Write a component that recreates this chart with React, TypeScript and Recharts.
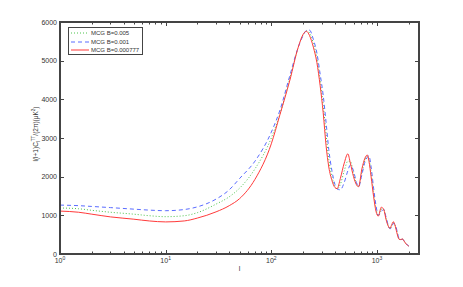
import React from 'react';
import { LineChart, Line, XAxis, YAxis } from 'recharts';

// multipole grid (l) shared by the three curves
const ells = [
  1, 1.5, 2, 3, 5, 7, 10, 15, 20, 30, 40, 50, 70, 100, 120, 150, 180, 200, 215, 230,
  250, 270, 290, 310, 330, 350, 375, 400, 420, 450, 490, 530, 560, 600, 640, 670, 720,
  770, 810, 840, 880, 930, 980, 1030, 1100, 1160, 1220, 1280, 1330, 1380, 1430, 1490,
  1560, 1620, 1680, 1740, 1820, 1900, 2000,
];

const b005 = [
  1190, 1170, 1130, 1080, 1030, 990, 965, 990, 1070, 1290, 1480, 1700, 2200, 3000, 3600,
  4550, 5350, 5670, 5770, 5720, 5450, 5080, 4500, 3850, 3100, 2450, 2000, 1750, 1680,
  1800, 2150, 2400, 2400, 2080, 1810, 1740, 2120, 2430, 2530, 2460, 2120, 1580, 1170,
  990, 1160, 1150, 920, 730, 655, 730, 810, 740, 530, 390, 372, 385, 325, 255, 205,
];

const b001 = [
  1265, 1250, 1230, 1200, 1160, 1135, 1120, 1150, 1220, 1420, 1660, 1950, 2400, 3150, 3700,
  4620, 5350, 5650, 5780, 5790, 5550, 5200, 4650, 4100, 3400, 2700, 2150, 1800, 1680,
  1660, 1850, 2150, 2300, 2150, 1850, 1740, 2050, 2380, 2500, 2540, 2250, 1700, 1250,
  1000, 1100, 1150, 950, 740, 650, 700, 790, 760, 560, 400, 370, 380, 330, 260, 205,
];

const b000777 = [
  1110, 1080, 1030, 960, 900, 855, 830, 855, 930, 1090, 1250, 1430, 1930, 2850, 3580,
  4500, 5350, 5680, 5760, 5650, 5350, 4950, 4350, 3650, 2800, 2250, 1900, 1720, 1690,
  1950, 2350, 2590, 2350, 2000, 1790, 1740, 2200, 2480, 2560, 2400, 2000, 1480, 1100,
  980, 1210, 1150, 890, 720, 665, 760, 835, 720, 500, 380, 375, 390, 320, 250, 205,
];

const xTicks = [
  1, 2, 3, 4, 5, 6, 7, 8, 9, 10, 20, 30, 40, 50, 60, 70, 80, 90,
  100, 200, 300, 400, 500, 600, 700, 800, 900, 1000, 2000,
];
const yTicks = [0, 1000, 2000, 3000, 4000, 5000, 6000];

const data = ells.map((l, i) => ({ l, g: b005[i], b: b001[i], r: b000777[i] }));

const AXIS = '#444';
const FONT = '"Liberation Sans", Arial, sans-serif';
const C_GREEN = '#4cc44c';
const C_BLUE = '#5a6cff';
const C_RED = '#ff3a3a';

// plot box (chart 463x287 minus margins/axes)
const PLOT_L = 60;
const PLOT_T = 22;
const PLOT_W = 359;
const PLOT_H = 232;

const isDecade = (v: number) => Math.abs(Math.log10(v) - Math.round(Math.log10(v))) < 1e-9;

// bottom tick also mirrors its mark onto the top edge of the box
const BottomTick = (p: any) => {
  const v = p.payload.value;
  const major = isDecade(v);
  const len = major ? 4 : 2.5;
  const x = Math.round(p.x) + 0.5;
  return (
    <g>
      <line x1={x} x2={x} y1={p.y} y2={p.y - len} stroke={AXIS} />
      <line x1={x} x2={x} y1={PLOT_T} y2={PLOT_T + len} stroke={AXIS} />
      {major && (
        <text x={p.x} y={p.y + 9} textAnchor="middle" fontSize={7} fill="#333" fontFamily={FONT}>
          10<tspan dy={-3} fontSize={5}>{Math.round(Math.log10(v))}</tspan>
        </text>
      )}
    </g>
  );
};

const LeftTick = (p: any) => {
  const y = Math.round(p.y) + 0.5;
  return (
    <g>
      <line x1={PLOT_L} x2={PLOT_L + 4} y1={y} y2={y} stroke={AXIS} />
      <line x1={PLOT_L + PLOT_W} x2={PLOT_L + PLOT_W - 4} y1={y} y2={y} stroke={AXIS} />
      <text x={p.x - 3} y={p.y + 2.5} textAnchor="end" fontSize={7} fill="#333" fontFamily={FONT}>
        {p.payload.value}
      </text>
    </g>
  );
};

const YTitle = (props: any) => {
  const vb = props.viewBox;
  const cx = vb.x + 38;
  const cy = vb.y + vb.height / 2 - 4;
  return (
    <text x={cx} y={cy} transform={`rotate(-90 ${cx} ${cy})`} textAnchor="middle" fontSize={6.5} fill="#333" fontFamily={FONT}>
      l(l+1)C<tspan dy={2} fontSize={4.5}>l</tspan><tspan dy={-5} fontSize={4.5}>TT</tspan>
      <tspan dy={3}>/(2π)(μK</tspan><tspan dy={-3} fontSize={4.5}>2</tspan><tspan dy={3}>)</tspan>
    </text>
  );
};

const XTitle = (props: any) => {
  const vb = props.viewBox;
  return (
    <text x={vb.x + vb.width / 2} y={vb.y + 17} textAnchor="middle" fontSize={7} fill="#333" fontFamily={FONT}>
      l
    </text>
  );
};

const legendItems = [
  { name: 'MCG B=0.005', color: C_GREEN, dash: '1 2' },
  { name: 'MCG B=0.001', color: C_BLUE, dash: '4 3' },
  { name: 'MCG B=0.000777', color: C_RED, dash: undefined },
];

const LegendBox = () => (
  <div
    style={{
      position: 'absolute', left: 68, top: 27, width: 75, height: 28, boxSizing: 'border-box',
      border: `1px solid ${AXIS}`, background: '#fff', fontFamily: FONT, fontSize: 6,
      color: '#333', padding: '1px 0 0 2px', whiteSpace: 'nowrap', lineHeight: '8px',
    }}
  >
    {legendItems.map(it => (
      <div key={it.name} style={{ display: 'flex', alignItems: 'center', height: 8.4 }}>
        <svg width={18} height={4} style={{ marginRight: 2, flexShrink: 0 }}>
          <line x1={0} x2={18} y1={2} y2={2} stroke={it.color} strokeDasharray={it.dash} />
        </svg>
        <span>{it.name}</span>
      </div>
    ))}
  </div>
);

export default function App() {
  return (
    <div style={{ position: 'absolute', left: 0, top: 0, width: 463, height: 287, background: '#fff' }}>
      <LineChart width={463} height={287} data={data} margin={{ top: PLOT_T, right: 463 - PLOT_L - PLOT_W, left: 0, bottom: 0 }}>
        <XAxis
          dataKey="l" type="number" scale="log" domain={[1, 2500]} allowDataOverflow
          ticks={xTicks} interval={0} height={287 - PLOT_T - PLOT_H} tickSize={0} tickMargin={0}
          stroke={AXIS} tick={BottomTick} label={{ content: XTitle }}
        />
        <YAxis
          type="number" domain={[0, 6000]} ticks={yTicks} interval={0} width={PLOT_L}
          tickSize={0} tickMargin={0} stroke={AXIS} tick={LeftTick} label={{ content: YTitle }}
        />
        <Line type="monotone" dataKey="g" stroke={C_GREEN} strokeDasharray="1 2" strokeWidth={1} dot={false} isAnimationActive={false} />
        <Line type="monotone" dataKey="b" stroke={C_BLUE} strokeDasharray="4 3" strokeWidth={1} dot={false} isAnimationActive={false} />
        <Line type="monotone" dataKey="r" stroke={C_RED} strokeWidth={1} dot={false} isAnimationActive={false} />
      </LineChart>
      {/* box frame around the plot area */}
      <div
        style={{
          position: 'absolute', left: PLOT_L - 1, top: PLOT_T - 1, width: PLOT_W + 2, height: PLOT_H + 2,
          boxSizing: 'border-box', border: `2px solid ${AXIS}`,
          pointerEvents: 'none', zIndex: 5,
        }}
      />
      <LegendBox />
    </div>
  );
}
